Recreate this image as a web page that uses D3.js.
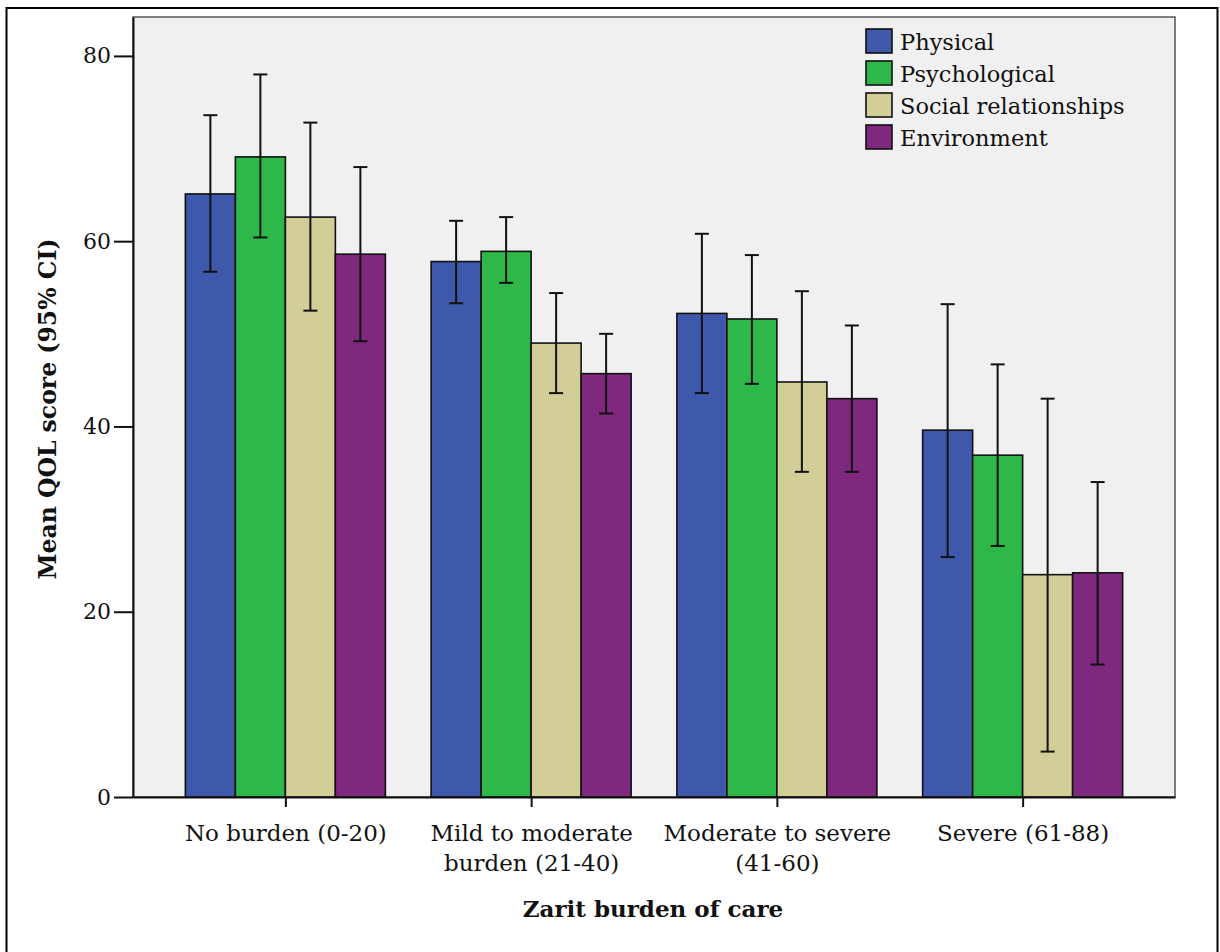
<!DOCTYPE html>
<html><head><meta charset="utf-8">
<script src="https://cdn.jsdelivr.net/npm/d3@7"></script>
<style>body{margin:0;background:#fff}svg{display:block}</style>
</head><body>
<svg id="c" width="1220" height="952"></svg>
<script>
const categories = [["No burden (0-20)"], ["Mild to moderate", "burden (21-40)"], ["Moderate to severe", "(41-60)"], ["Severe (61-88)"]];
const seriesNames = ["Physical", "Psychological", "Social relationships", "Environment"];
const seriesColors = ["#3e58ac", "#2fb84a", "#d3ce97", "#7e287e"];
const physical = [65.1, 57.8, 52.2, 39.6];
const physicalLo = [56.7, 53.3, 43.6, 25.9];
const physicalHi = [73.6, 62.2, 60.8, 53.2];
const psychological = [69.1, 58.9, 51.6, 36.9];
const psychologicalLo = [60.4, 55.5, 44.6, 27.1];
const psychologicalHi = [78.0, 62.6, 58.5, 46.7];
const social = [62.6, 49.0, 44.8, 24.0];
const socialLo = [52.5, 43.6, 35.1, 4.9];
const socialHi = [72.8, 54.4, 54.6, 43.0];
const environment = [58.6, 45.7, 43.0, 24.2];
const environmentLo = [49.2, 41.4, 35.1, 14.3];
const environmentHi = [68.0, 50.0, 50.9, 34.0];
const yTicks = [0, 20, 40, 60, 80];

const series = [
  {name: seriesNames[0], v: physical, lo: physicalLo, hi: physicalHi},
  {name: seriesNames[1], v: psychological, lo: psychologicalLo, hi: psychologicalHi},
  {name: seriesNames[2], v: social, lo: socialLo, hi: socialHi},
  {name: seriesNames[3], v: environment, lo: environmentLo, hi: environmentHi}
];

const svg = d3.select("#c");
const L = 133, R = 1175, T = 17, B = 797;
const font = "'DejaVu Serif', serif";

svg.append("rect").attr("x", 6.5).attr("y", 8).attr("width", 1211).attr("height", 960)
  .attr("fill", "#fff").attr("stroke", "#000").attr("stroke-width", 2);

svg.append("rect").attr("x", L).attr("y", T).attr("width", R - L).attr("height", B - T)
  .attr("fill", "#f0f0f0").attr("stroke", "#555").attr("stroke-width", 1.5);

const catKeys = categories.map(c => c.join(" "));
const x0 = d3.scalePoint().domain(catKeys).range([L, R]).padding(0.62);
const groupW = 200;
const x1 = d3.scaleBand().domain(seriesNames).range([-groupW / 2, groupW / 2]).padding(0);
const y = d3.scaleLinear().domain([0, 84.2]).range([B, T]);

const g = svg.append("g");
series.forEach((s, si) => {
  catKeys.forEach((ck, ci) => {
    const bx = x0(ck) + x1(s.name);
    g.append("rect").attr("x", bx).attr("y", y(s.v[ci]))
      .attr("width", x1.bandwidth()).attr("height", y(0) - y(s.v[ci]))
      .attr("fill", seriesColors[si]).attr("stroke", "#111").attr("stroke-width", 1.6);
  });
});
series.forEach((s, si) => {
  catKeys.forEach((ck, ci) => {
    const cx = x0(ck) + x1(s.name) + x1.bandwidth() / 2;
    g.append("line").attr("x1", cx).attr("x2", cx).attr("y1", y(s.lo[ci])).attr("y2", y(s.hi[ci]))
      .attr("stroke", "#111").attr("stroke-width", 2);
    [s.lo[ci], s.hi[ci]].forEach(v => {
      g.append("line").attr("x1", cx - 7).attr("x2", cx + 7).attr("y1", y(v)).attr("y2", y(v))
        .attr("stroke", "#111").attr("stroke-width", 2);
    });
  });
});

// Y axis
const ya = svg.append("g").attr("transform", `translate(${L},0)`)
  .call(d3.axisLeft(y).tickValues(yTicks).tickSize(19).tickSizeOuter(0).tickPadding(3));
ya.select(".domain").attr("stroke", "#111").attr("stroke-width", 2);
ya.selectAll(".tick line").attr("stroke", "#111").attr("stroke-width", 2);
ya.selectAll("text").attr("font-family", font).attr("font-size", 22).attr("fill", "#111");

// X axis
const xa = svg.append("g").attr("transform", `translate(0,${B})`)
  .call(d3.axisBottom(x0).tickSize(10).tickSizeOuter(0).tickFormat(""));
xa.select(".domain").attr("stroke", "#111").attr("stroke-width", 2);
xa.selectAll(".tick line").attr("stroke", "#111").attr("stroke-width", 2);
xa.selectAll(".tick").each(function(d, i) {
  const t = d3.select(this).append("text").attr("fill", "#111")
    .attr("font-family", font).attr("font-size", 23).attr("text-anchor", "middle");
  categories[i].forEach((line, li) => {
    t.append("tspan").attr("x", 0).attr("y", 44 + li * 30).text(line);
  });
});

svg.append("text").attr("x", (L + R) / 2 - 1).attr("y", 917).attr("text-anchor", "middle")
  .attr("font-family", font).attr("font-weight", "bold").attr("font-size", 23).attr("fill", "#111")
  .text("Zarit burden of care");
svg.append("text").attr("transform", `translate(56,${(T + B) / 2 + 2}) rotate(-90)`)
  .attr("text-anchor", "middle")
  .attr("font-family", font).attr("font-weight", "bold").attr("font-size", 23.5).attr("fill", "#111")
  .text("Mean QOL score (95% CI)");

// Legend
const lg = svg.append("g").attr("transform", "translate(866,29)");
seriesNames.forEach((n, i) => {
  lg.append("rect").attr("x", 0).attr("y", i * 32).attr("width", 26).attr("height", 24)
    .attr("fill", seriesColors[i]).attr("stroke", "#111").attr("stroke-width", 1.6);
  lg.append("text").attr("x", 34).attr("y", i * 32 + 21).attr("font-family", font)
    .attr("font-size", 22.5).attr("fill", "#111").text(n);
});
</script>
</body></html>
